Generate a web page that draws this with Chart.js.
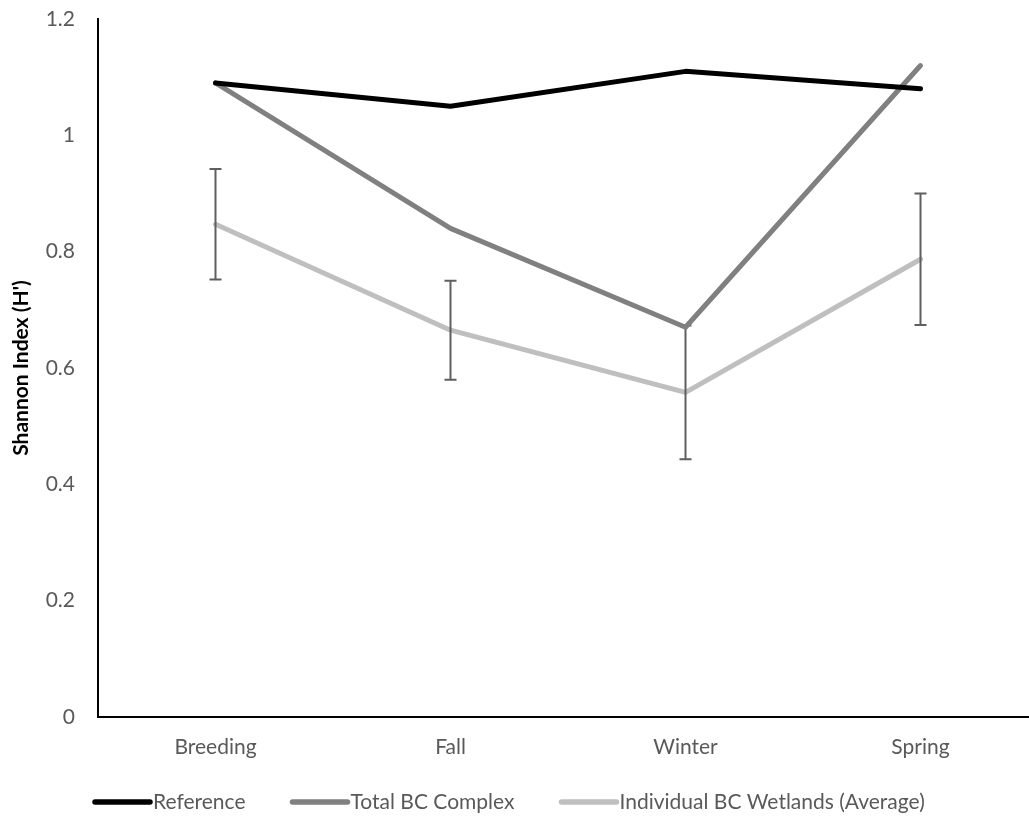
<!DOCTYPE html>
<html>
<head>
<meta charset="utf-8">
<script src="https://cdn.jsdelivr.net/npm/chart.js@4"></script>
<style>
  html, body { margin: 0; padding: 0; background: #fff; overflow: hidden; }
  #wrap { width: 1040px; height: 819px; }
</style>
</head>
<body>
<div id="wrap"><canvas id="lineChart" width="1040" height="819"></canvas></div>
<script>
const seasons = ['Breeding', 'Fall', 'Winter', 'Spring']
const referenceH = [1.09, 1.05, 1.11, 1.08]
const totalBC = [1.09, 0.84, 0.67, 1.12]
const individualBC = [0.847, 0.665, 0.558, 0.787]
const individualErr = [0.095, 0.085, 0.115, 0.113]
const yTicks = [0, 0.2, 0.4, 0.6, 0.8, 1, 1.2]

const tickGrey = '#595959'
const fontName = 'Lato, "Liberation Sans", sans-serif'
const fontSize = 21

// draws the error bars right after the Individual series line
const errorBars = {
  id: 'errorBars',
  afterDatasetDraw(chart, args) {
    if (args.index !== 2) return
    const ctx = chart.ctx
    const x = chart.scales.x
    const y = chart.scales.y
    ctx.save()
    ctx.strokeStyle = '#5f5f5f'
    ctx.lineWidth = 2
    individualBC.forEach((v, i) => {
      const px = x.getPixelForValue(i)
      const top = y.getPixelForValue(v + individualErr[i])
      const bot = y.getPixelForValue(v - individualErr[i])
      ctx.beginPath()
      ctx.moveTo(px, top); ctx.lineTo(px, bot)
      ctx.moveTo(px - 6, top); ctx.lineTo(px + 6, top)
      ctx.moveTo(px - 6, bot); ctx.lineTo(px + 6, bot)
      ctx.stroke()
    })
    ctx.restore()
  }
}

// legend like the office one: short thick line, text right next to it
const lineLegend = {
  id: 'lineLegend',
  afterDraw(chart) {
    const ctx = chart.ctx
    let x = 93
    const y = 802
    ctx.save()
    ctx.font = fontSize + 'px ' + fontName
    ctx.textBaseline = 'middle'
    ctx.lineCap = 'round'
    ctx.lineWidth = 5.5
    chart.data.datasets.forEach(ds => {
      ctx.strokeStyle = ds.borderColor
      ctx.beginPath()
      ctx.moveTo(x + 2, y); ctx.lineTo(x + 57, y)
      ctx.stroke()
      x += 60
      ctx.fillStyle = tickGrey
      ctx.fillText(ds.label, x, y)
      x += ctx.measureText(ds.label).width + 45
    })
    ctx.restore()
  }
}

const data = {
  labels: seasons,
  datasets: [
    { label: 'Reference', data: referenceH, borderColor: '#000000', backgroundColor: '#000000' },
    { label: 'Total BC Complex', data: totalBC, borderColor: '#808080', backgroundColor: '#808080' },
    { label: 'Individual BC Wetlands (Average)', data: individualBC, borderColor: '#bfbfbf', backgroundColor: '#bfbfbf' }
  ].map(d => Object.assign(d, { borderWidth: 5, pointRadius: 0, borderCapStyle: 'round', borderJoinStyle: 'round', tension: 0 }))
}

const ctx = document.getElementById('lineChart').getContext('2d')
const myChart = new Chart(ctx, {
  type: 'line',
  data: data,
  plugins: [errorBars, lineLegend],
  options: {
    responsive: false,
    animation: false,
    layout: { padding: { top: 19, left: 0, right: 2, bottom: 59 } },
    plugins: {
      tooltip: { enabled: false },
      legend: { display: false }
    },
    scales: {
      x: {
        offset: true,
        afterFit(scale) { scale.height = 43; scale.paddingLeft = 0; scale.paddingRight = 0 },
        grid: { display: false, drawTicks: false },
        border: { color: '#000', width: 2 },
        ticks: { color: tickGrey, padding: 18, font: { family: fontName, size: fontSize } }
      },
      y: {
        min: 0,
        max: 1.2,
        afterFit(scale) { scale.width = 98; scale.paddingTop = 0; scale.paddingBottom = 0 },
        afterBuildTicks(scale) { scale.ticks = yTicks.map(v => ({ value: v })) },
        grid: { display: false, drawTicks: false },
        border: { color: '#000', width: 2 },
        ticks: {
          color: tickGrey,
          padding: 23,
          font: { family: fontName, size: fontSize },
          callback: v => String(+v.toFixed(1))
        },
        title: {
          display: true,
          text: "Shannon Index (H')",
          color: '#000',
          padding: { top: 9, bottom: 0 },
          font: { family: fontName, size: fontSize, weight: 'bold' }
        }
      }
    }
  }
})
</script>
</body>
</html>
